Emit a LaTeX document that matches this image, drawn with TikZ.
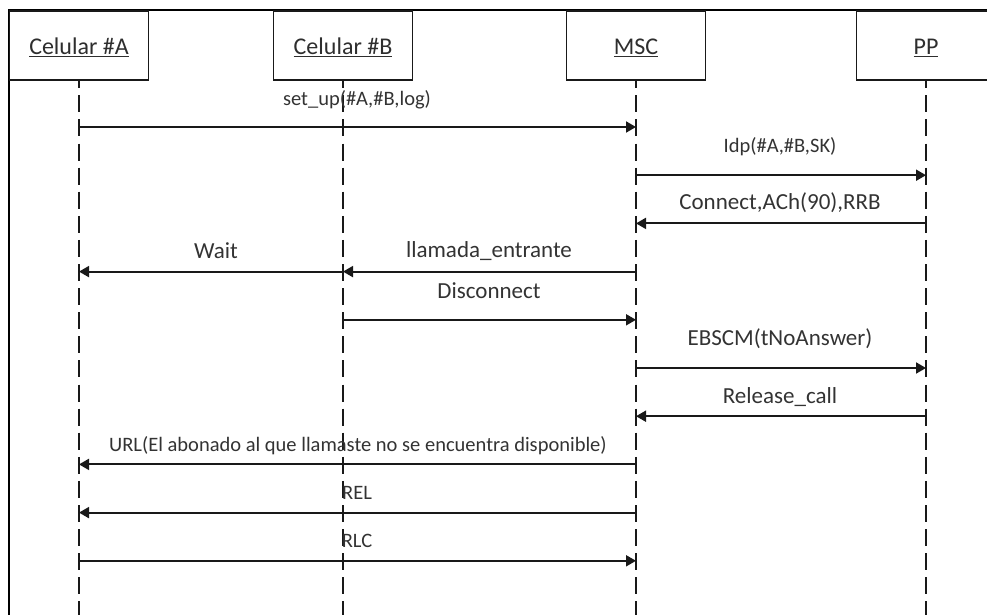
\documentclass[tikz,border=0pt]{standalone}
\usepackage{fontspec}
\setmainfont{Carlito}
\usetikzlibrary{arrows.meta}
\begin{document}
\begin{tikzpicture}[x=1pt,y=-1pt,
  hdr/.style={draw=black!90,line width=1.8pt,minimum width=139pt,minimum height=69pt,inner sep=0pt,
    text height=20pt,text depth=1pt,font=\fontsize{24}{28}\selectfont,text=black!82},
  ll/.style={draw=black!90,line width=1.9pt,dash pattern=on 17pt off 7.1pt,dash phase=9.7pt},
  msg/.style={draw=black!90,line width=1.9pt,-{Triangle[length=10pt,width=11pt]}},
  big/.style={inner sep=0pt,font=\fontsize{23}{27}\selectfont,text=black!80},
  sml/.style={inner sep=0pt,font=\fontsize{20.5}{24}\selectfont,text=black!80}]
\useasboundingbox (0,0) rectangle (987,615);
\clip (0,0) rectangle (987,615);
% frame
\draw[black,line width=2.4pt] (9,640) -- (9,10) -- (1000,10);
% header boxes
\node[hdr] (hA) at (79,45.5) {\underline{Celular \#A}};
\node[hdr] (hB) at (343,45.5) {\underline{Celular \#B}};
\node[hdr] (hM) at (636,45.5) {\underline{MSC}};
\node[hdr] (hP) at (926,45.5) {\underline{PP}};
% lifeline ends
\coordinate (eA) at (79,640);
\coordinate (eB) at (343,640);
\coordinate (eM) at (636,640);
\coordinate (eP) at (926,640);
\draw[ll] (hA.south) -- (eA);
\draw[ll] (hB.south) -- (eB);
\draw[ll] (hM.south) -- (eM);
\draw[ll] (hP.south) -- (eP);
% message points
\foreach \n/\y in {1/127,2/175.2,3/223.4,4/271.6,5/319.8,6/368,7/416.2,8/464.4,9/512.6,10/560.8}{
  \coordinate (A\n) at (79,\y);
  \coordinate (B\n) at (343,\y);
  \coordinate (M\n) at (636,\y);
  \coordinate (P\n) at (926,\y);
}
% messages
\draw[msg] (A1) -- (M1);
\node[sml] (l1) at (357,100) {set\_up(\#A,\#B,log)};
\draw[msg] (M2) -- (P2);
\node[sml] (l2) at (780,147) {Idp(\#A,\#B,SK)};
\draw[msg] (P3) -- (M3);
\node[big] (l3) at (780,203) {Connect,ACh(90),RRB};
\draw[msg] (M4) -- (B4);
\node[big] (l4) at (489,251) {llamada\_entrante};
\draw[msg] (B4) -- (A4);
\node[big] (l4b) at (216,251) {Wait};
\draw[msg] (B5) -- (M5);
\node[big] (l5) at (489,291) {Disconnect};
\draw[msg] (M6) -- (P6);
\node[big] (l6) at (780,339) {EBSCM(tNoAnswer)};
\draw[msg] (P7) -- (M7);
\node[big] (l7) at (780,397) {Release\_call};
\draw[msg] (M8) -- (A8);
\node[sml] (l8) at (358,446) {URL(El abonado al que llamaste no se encuentra disponible)};
\draw[msg] (M9) -- (A9);
\node[sml] (l9) at (357,493) {REL};
\draw[msg] (A10) -- (M10);
\node[sml] (l10) at (357,541) {RLC};
\end{tikzpicture}
\end{document}
